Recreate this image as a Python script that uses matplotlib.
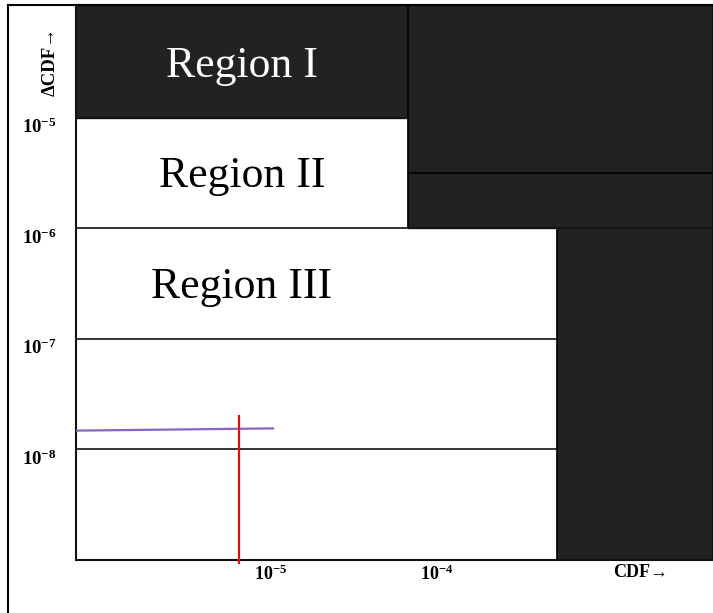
import numpy as np
import matplotlib.pyplot as plt
from matplotlib.patches import Rectangle
from matplotlib.lines import Line2D

plt.rcParams['font.family'] = ['Liberation Serif', 'DejaVu Serif']
plt.rcParams['mathtext.fontset'] = 'custom'
plt.rcParams['mathtext.rm'] = 'Liberation Serif'
plt.rcParams['mathtext.bf'] = 'Liberation Serif:bold'

# axis ranges (log scale)
x_range = [10**-6.23, 10**-1.95]
y_range = [1e-9, 10**-3.98]

# region thresholds
cdf_bounds = [1e-4, 1e-3]
dcdf_levels = [1e-5, 10**-5.5, 1e-6, 1e-7, 1e-8]

# region labels
region_names = ['Region I', 'Region II', 'Region III']
region_y = [10**-4.53, 10**-5.53, 10**-6.53]

# tick labels
ytick_vals = [1e-5, 1e-6, 1e-7, 1e-8]
ytick_labels = [r'$\mathbf{10^{-5}}$', r'$\mathbf{10^{-6}}$',
                r'$\mathbf{10^{-7}}$', r'$\mathbf{10^{-8}}$']
xtick_vals = [1.2e-5, 1.57e-4, 3.66e-3]
xtick_labels = [r'$\mathbf{10^{-5}}$', r'$\mathbf{10^{-4}}$', 'CDF→']

# plotted curves
purple_x = [x_range[0], 1.24e-5]
purple_y = [1.48e-8, 1.55e-8]
red_x = 7.35e-6
red_y = [0.94e-9, 2.02e-8]

dark = '#222222'

fig = plt.figure(figsize=(7.13, 6.13), dpi=100)
ax = fig.add_axes([76 / 713, 53 / 613, 637 / 713, 555 / 613])
ax.set_xscale('log')
ax.set_yscale('log')
ax.set_xlim(x_range)
ax.set_ylim(y_range)

# dark (unacceptable) regions
ax.add_patch(Rectangle((x_range[0], dcdf_levels[0]), cdf_bounds[0] - x_range[0],
                       y_range[1] - dcdf_levels[0], color=dark, zorder=1))
ax.add_patch(Rectangle((cdf_bounds[0], dcdf_levels[2]), x_range[1] - cdf_bounds[0],
                       y_range[1] - dcdf_levels[2], color=dark, zorder=1))
ax.add_patch(Rectangle((cdf_bounds[1], y_range[0]), x_range[1] - cdf_bounds[1],
                       dcdf_levels[2] - y_range[0], color=dark, zorder=1))

# boundary lines
lc = '#111111'
ax.hlines(dcdf_levels[0], x_range[0], cdf_bounds[0], color=lc, lw=1.2, zorder=2)
ax.hlines(dcdf_levels[1], cdf_bounds[0], x_range[1], color='black', lw=1.2, zorder=2)
ax.hlines(dcdf_levels[2], x_range[0], x_range[1], color=lc, lw=1.2, zorder=2)
ax.hlines(dcdf_levels[3], x_range[0], cdf_bounds[1], color=lc, lw=1.2, zorder=2)
ax.hlines(dcdf_levels[4], x_range[0], cdf_bounds[1], color=lc, lw=1.2, zorder=2)
ax.vlines(cdf_bounds[0], dcdf_levels[2], y_range[1], color='black', lw=1.2, zorder=2)
ax.vlines(cdf_bounds[1], y_range[0], dcdf_levels[2], color='black', lw=1.2, zorder=2)

# region labels
x_mid = np.sqrt(x_range[0] * cdf_bounds[0])
for i, (name, yy) in enumerate(zip(region_names, region_y)):
    ax.text(x_mid, yy, name, ha='center', va='center', fontsize=31.5,
            color='white' if i == 0 else 'black', zorder=3)

# curves
ax.plot(purple_x, purple_y, color='#8a63c2', lw=1.6, zorder=4)
ax.plot([red_x, red_x], red_y, color='red', lw=1.5, zorder=4, clip_on=False)

# ticks
ax.minorticks_off()
ax.set_yticks(ytick_vals)
ax.set_yticklabels(ytick_labels, fontsize=13.5)
for t in ax.get_yticklabels():
    t.set_va('top')
ax.set_xticks(xtick_vals)
ax.set_xticklabels(xtick_labels, fontsize=13, fontweight='bold')
ax.tick_params(axis='y', length=0, pad=14)
ax.tick_params(axis='x', length=0, pad=3)

for s in ax.spines.values():
    s.set_linewidth(1.5)
    s.set_color('#111111')

fig.text(50 / 713, 1 - 61 / 613, 'ΔCDF→', rotation=90, ha='center', va='center',
         fontsize=13.5, fontweight='bold')

# outer frame
fig.add_artist(Line2D([8 / 713, 8 / 713], [0, 1 - 5 / 613], color='black', lw=1.5,
                      transform=fig.transFigure))
fig.add_artist(Line2D([8 / 713, 1], [1 - 5 / 613, 1 - 5 / 613], color='black', lw=1.5,
                      transform=fig.transFigure))

fig.savefig('out.png', dpi=100)
